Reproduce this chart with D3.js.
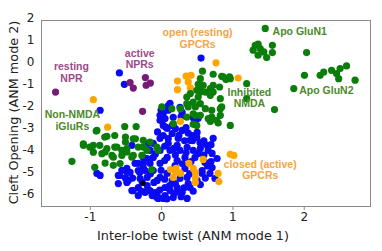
<!DOCTYPE html>
<html>
<head>
<meta charset="utf-8">
<script src="https://cdn.jsdelivr.net/npm/d3@7"></script>
<style>
  body { margin: 0; background: #fff; }
  svg { display: block; }
</style>
</head>
<body>
<div id="chart"></div>
<script>
// point groups, [inter-lobe twist, cleft opening]
const bluePts = [
  [-0.585,-0.51],[-0.515,-1.03],[-0.855,-2.21],[0.56,0.17],
  [0.125,-1.89],[0.03,-2.35],[0.10,-2.21],[0.265,-2.08],[0.295,-2.30],[0.17,-2.53],
  [-0.015,-2.67],[0.03,-2.90],[0.475,-2.76],[0.52,-2.58],[0.085,-3.04],[0.03,-3.36],
  [0.155,-3.27],[0.295,-3.13],[0.435,-3.36],[0.505,-3.22],[0.645,-3.81],[0.66,-4.04],
  [0.785,-4.41],[0.52,-4.18],[0.365,-3.90],[0.225,-3.81],[0.10,-3.72],[-0.015,-3.49],
  [-0.11,-3.72],[-0.155,-4.04],[-0.11,-4.36],[-0.25,-4.63],[-0.32,-4.96],[-0.48,-4.86],
  [-0.60,-5.18],[-0.48,-5.50],[-0.32,-5.73],[-0.195,-5.64],[-0.085,-5.96],[-0.04,-6.23],
  [0.055,-6.10],[0.17,-6.19],[0.295,-5.96],[0.405,-5.73],[0.505,-5.41],[0.575,-5.09],
  [0.685,-5.09],[0.715,-4.82],[0.615,-4.59],[0.475,-4.36],[0.335,-4.36],[0.225,-4.50],
  [0.085,-4.36],[-0.015,-4.63],[-0.11,-4.96],[-0.015,-5.27],[0.085,-5.09],[0.155,-5.41],
  [0.265,-5.32],[0.365,-5.27],[0.38,-5.55],[0.225,-5.73],[0.055,-5.73],[-0.055,-5.41],
  [-0.195,-5.27],[-0.295,-5.32],[-0.155,-4.63],[-0.25,-4.36],[0.405,-3.58],[0.545,-3.68],
  [0.265,-4.04],[0.45,-4.04],[0.73,-3.49],[0.59,-3.72],[0.715,-4.18],[0.575,-4.96],
  [0.755,-5.32],[0.265,-5.09],[-0.60,-5.55],[-0.48,-5.04],[-0.41,-5.87],[-0.265,-5.50],
  [-0.055,-6.10],[0.03,-6.23],[0.365,-6.23],[0.265,-5.96],[0.125,-5.87],[-0.155,-5.87],
  [-0.225,-5.96],[0.195,-4.73],[0.335,-4.86],[-0.015,-4.04],[0.125,-4.04],[-0.225,-4.96],
  [-0.365,-4.63],[0.155,-2.90],[0.24,-3.49],[-0.18,-3.72],[-0.015,-2.44],[0.055,-2.59],
  [0.17,-2.90],[-0.90,-5.09],[-0.855,-5.18],[-0.58,-5.18],[0.065,-2.98],[0.47,-2.80],
  [0.60,-3.60],[0.70,-3.78],[0.44,-3.60],[-0.46,-5.41],[-0.435,-5.04],[-0.32,-4.63],
  [-0.25,-4.82],[-0.195,-4.41],[-0.41,-3.81],[-0.39,-5.87],[-0.32,-6.10],[-0.195,-5.87],
  [-0.125,-6.10],[-0.06,-6.19],
  [-0.05,-3.20],[0.20,-3.05],[0.35,-3.00],[0.38,-3.25],[0.25,-3.35],[0.10,-3.50],
  [0.33,-3.60],[0.50,-3.45],[0.05,-3.85],[0.18,-3.95],[0.35,-4.15],[0.55,-3.95],
  [-0.08,-4.20],[0.05,-4.50],[0.20,-4.25],[0.42,-4.55],[0.60,-4.25],[0.65,-4.75],
  [0.30,-4.65],[-0.30,-5.05],[-0.15,-5.10],[0.00,-4.95],[-0.40,-5.30],[-0.10,-5.50],
  [0.05,-5.35],[0.20,-5.55],[0.32,-5.75],[0.12,-5.65],[-0.02,-5.85],[-0.28,-5.90],
  [0.18,-6.00],[0.08,-6.25],[0.28,-6.15],[0.45,-5.90],[0.55,-5.60],[0.62,-5.30],
  [0.70,-4.55],[0.40,-5.10],[-0.50,-5.30],[-0.55,-4.95],[0.45,-2.55],[0.28,-2.50],
  [0.00,-2.20],[0.10,-2.00]
];

const greenPts = [
  // non-NMDA iGluRs
  [-0.91,-3.16],[-0.79,-3.43],[-0.65,-3.36],[-0.51,-2.95],[-0.35,-2.95],[-0.50,-3.43],
  [-0.36,-3.51],[-1.09,-3.74],[-1.09,-3.81],[-0.95,-3.81],[-0.86,-3.81],[-0.76,-3.96],
  [-0.65,-3.89],[-0.62,-3.89],[-0.55,-4.04],[-0.95,-4.12],[-0.785,-4.11],[-0.83,-4.19],
  [-0.69,-4.27],[-0.67,-4.35],[-0.55,-4.27],[-0.48,-4.11],[-0.39,-4.27],[-1.25,-4.54],
  [-0.93,-4.81],[-0.785,-4.62],[-0.67,-4.72],[-0.575,-4.64],[-0.41,-4.35],[-0.32,-3.89],
  [-0.25,-3.58],[-0.25,-3.89],[-0.20,-4.04],[-0.27,-4.27],[-1.00,-3.89],[-0.48,-3.96],
  [-0.50,-3.66],[-0.39,-3.51],[-0.155,-3.66],[-0.06,-3.89],[-0.04,-4.04],[-0.13,-4.92],
  [-0.90,-3.13],[-0.76,-3.40],
  // inhibited NMDA
  [0.58,-0.43],[0.73,-0.57],[0.87,-0.69],[0.96,-0.69],[0.91,-0.81],[0.85,-0.66],
  [0.97,-0.77],[0.55,-0.77],[0.52,-1.03],[0.59,-1.07],[0.73,-1.07],[0.82,-1.15],
  [0.55,-1.22],[0.69,-1.22],[0.50,-1.30],[0.55,-1.38],[0.62,-1.38],[0.73,-1.38],
  [0.69,-1.45],[0.41,-1.45],[0.69,-1.53],[0.83,-1.68],[0.36,-1.61],[0.52,-1.61],
  [0.45,-1.84],[0.36,-1.91],[0.55,-1.91],[0.48,-2.06],[0.38,-2.06],[0.27,-2.14],
  [0.01,-2.06],[0.15,-2.14],[0.62,-2.14],[0.71,-2.21],[0.83,-2.14],[0.85,-2.06],
  [0.45,-2.37],[0.36,-2.52],[0.48,-2.44],[0.55,-2.44],[0.71,-2.52],[0.83,-2.44],
  [0.66,-2.59],[0.78,-2.67],[0.17,-2.82],[0.45,-2.85],[0.50,-2.90],[0.69,-2.72],
  [0.80,-2.79],[0.97,-2.90],[1.20,-1.00],[1.20,-1.68],[1.59,-2.18],[1.86,-1.22],
  // apo GluN1
  [1.46,1.52],[1.32,0.75],[1.36,0.80],[1.29,0.53],[1.39,0.60],[1.44,0.45],
  [1.56,0.75],[1.56,0.42],[1.48,0.19],[1.36,0.30],[2.04,0.42],
  // apo GluN2
  [2.01,-0.62],[2.23,-0.62],[2.28,-0.47],[2.39,-0.39],[2.46,-0.54],[2.51,-0.31],
  [2.60,-0.19],[2.49,-0.77],[2.72,-0.84]
];

const orangePts = [
  [-0.95,-1.73],[-0.75,-2.98],[0.77,-0.05],[0.35,-0.65],[0.42,-0.62],[0.23,-0.88],
  [0.38,-0.92],[0.23,-1.27],[0.41,-1.19],[1.08,-0.74],[0.27,-2.72],
  [0.13,-4.91],[0.21,-4.86],[0.17,-5.27],[0.27,-5.09],[0.20,-5.00],[0.39,-4.63],
  [0.45,-4.86],[0.48,-5.05],[0.48,-5.27],[0.48,-5.50],[0.59,-4.45],[0.80,-5.09],
  [0.81,-5.46],[0.97,-4.22],[1.02,-4.27]
];

const purplePts = [
  [-1.48,-1.38],[-0.435,-0.95],[-0.39,-1.20],[-0.22,-0.72],[-0.21,-1.07],
  [-0.15,-0.97],[-0.26,-2.26]
];

const blackPts = [[-0.255,-5.53]];

const xTicks = [-1, 0, 1, 2];
const yTicks = [2, 1, 0, -1, -2, -3, -4, -5, -6];

// annotation text: lines, anchor point (data units), colour group
const notes = [
  { lines: ["resting", "NPR"], x: -1.257, y: -0.38, color: "#9c4a8a", anchor: "middle" },
  { lines: ["active", "NPRs"], x: -0.30, y: 0.23, color: "#9c4a8a", anchor: "middle" },
  { lines: ["open (resting)", "GPCRs"], x: 0.512, y: 1.17, color: "#f5a545", anchor: "middle" },
  { lines: ["Apo GluN1"], x: 1.563, y: 1.22, color: "#4b8a2c", anchor: "start" },
  { lines: ["Apo GluN2"], x: 1.937, y: -1.47, color: "#4b8a2c", anchor: "start" },
  { lines: ["Inhibited", "NMDA"], x: 1.238, y: -1.54, color: "#4b8a2c", anchor: "middle" },
  { lines: ["Non-NMDA", "iGluRs"], x: -1.244, y: -2.58, color: "#4b8a2c", anchor: "middle" },
  { lines: ["closed (active)", "GPCRs"], x: 1.390, y: -4.83, color: "#f5a545", anchor: "middle" }
];

const W = 382, H = 251;
const margin = { top: 20, right: 11, bottom: 44, left: 41 };

const svg = d3.select("#chart").append("svg")
  .attr("width", W)
  .attr("height", H);

const x = d3.scaleLinear().domain([-1.684, 2.943]).range([margin.left, W - margin.right]);
const y = d3.scaleLinear().domain([-6.62, 1.904]).range([H - margin.bottom, margin.top]);

const fmt = d => String(d); // plain hyphen minus like the original

// frame
svg.append("rect")
  .attr("x", margin.left + 0.5)
  .attr("y", margin.top + 0.5)
  .attr("width", W - margin.left - margin.right - 1)
  .attr("height", H - margin.top - margin.bottom - 1)
  .attr("fill", "none")
  .attr("stroke", "#8a8a8a");

// axes
const xAxis = svg.append("g")
  .attr("transform", `translate(0,${H - margin.bottom})`)
  .call(d3.axisBottom(x).tickValues(xTicks).tickFormat(fmt).tickSize(3).tickPadding(2));
const yAxis = svg.append("g")
  .attr("transform", `translate(${margin.left},0)`)
  .call(d3.axisLeft(y).tickValues(yTicks).tickFormat(fmt).tickSize(0).tickPadding(6.5));

[xAxis, yAxis].forEach(g => {
  g.select(".domain").remove();
  g.selectAll("line").attr("stroke", "#8a8a8a");
  g.selectAll("text")
    .attr("fill", "#222")
    .style("font-family", "DejaVu Sans")
    .style("font-size", "12px");
});

// points
const dots = svg.append("g");
function drawGroup(pts, color, r) {
  dots.append("g").selectAll("circle")
    .data(pts)
    .enter().append("circle")
    .attr("cx", d => x(d[0]))
    .attr("cy", d => y(d[1]))
    .attr("r", r)
    .attr("fill", color);
}
drawGroup(bluePts, "#0a0af5", 3.6);
drawGroup(orangePts, "#ffa500", 3.6);
drawGroup(greenPts, "#0b7d0b", 3.6);
drawGroup(purplePts, "#761c76", 3.6);
drawGroup(blackPts, "#000000", 2.6);

// annotations
notes.forEach(n => {
  const t = svg.append("text")
    .attr("x", x(n.x))
    .attr("y", y(n.y))
    .attr("text-anchor", n.anchor)
    .attr("fill", n.color)
    .style("font-family", "Liberation Sans, Arial, sans-serif")
    .style("font-weight", "bold")
    .style("font-size", "10.5px");
  n.lines.forEach((line, i) => {
    t.append("tspan")
      .attr("x", x(n.x))
      .attr("dy", i === 0 ? 0 : 11.5)
      .text(line);
  });
});

// axis titles
svg.append("text")
  .attr("x", 193)
  .attr("y", 240)
  .attr("text-anchor", "middle")
  .attr("fill", "#222")
  .style("font-family", "DejaVu Sans")
  .style("font-size", "12.8px")
  .text("Inter-lobe twist (ANM mode 1)");

svg.append("text")
  .attr("transform", "translate(17.5,112.5) rotate(-90)")
  .attr("text-anchor", "middle")
  .attr("fill", "#222")
  .style("font-family", "DejaVu Sans")
  .style("font-size", "12.8px")
  .text("Cleft Opening (ANM mode 2)");
</script>
</body>
</html>
